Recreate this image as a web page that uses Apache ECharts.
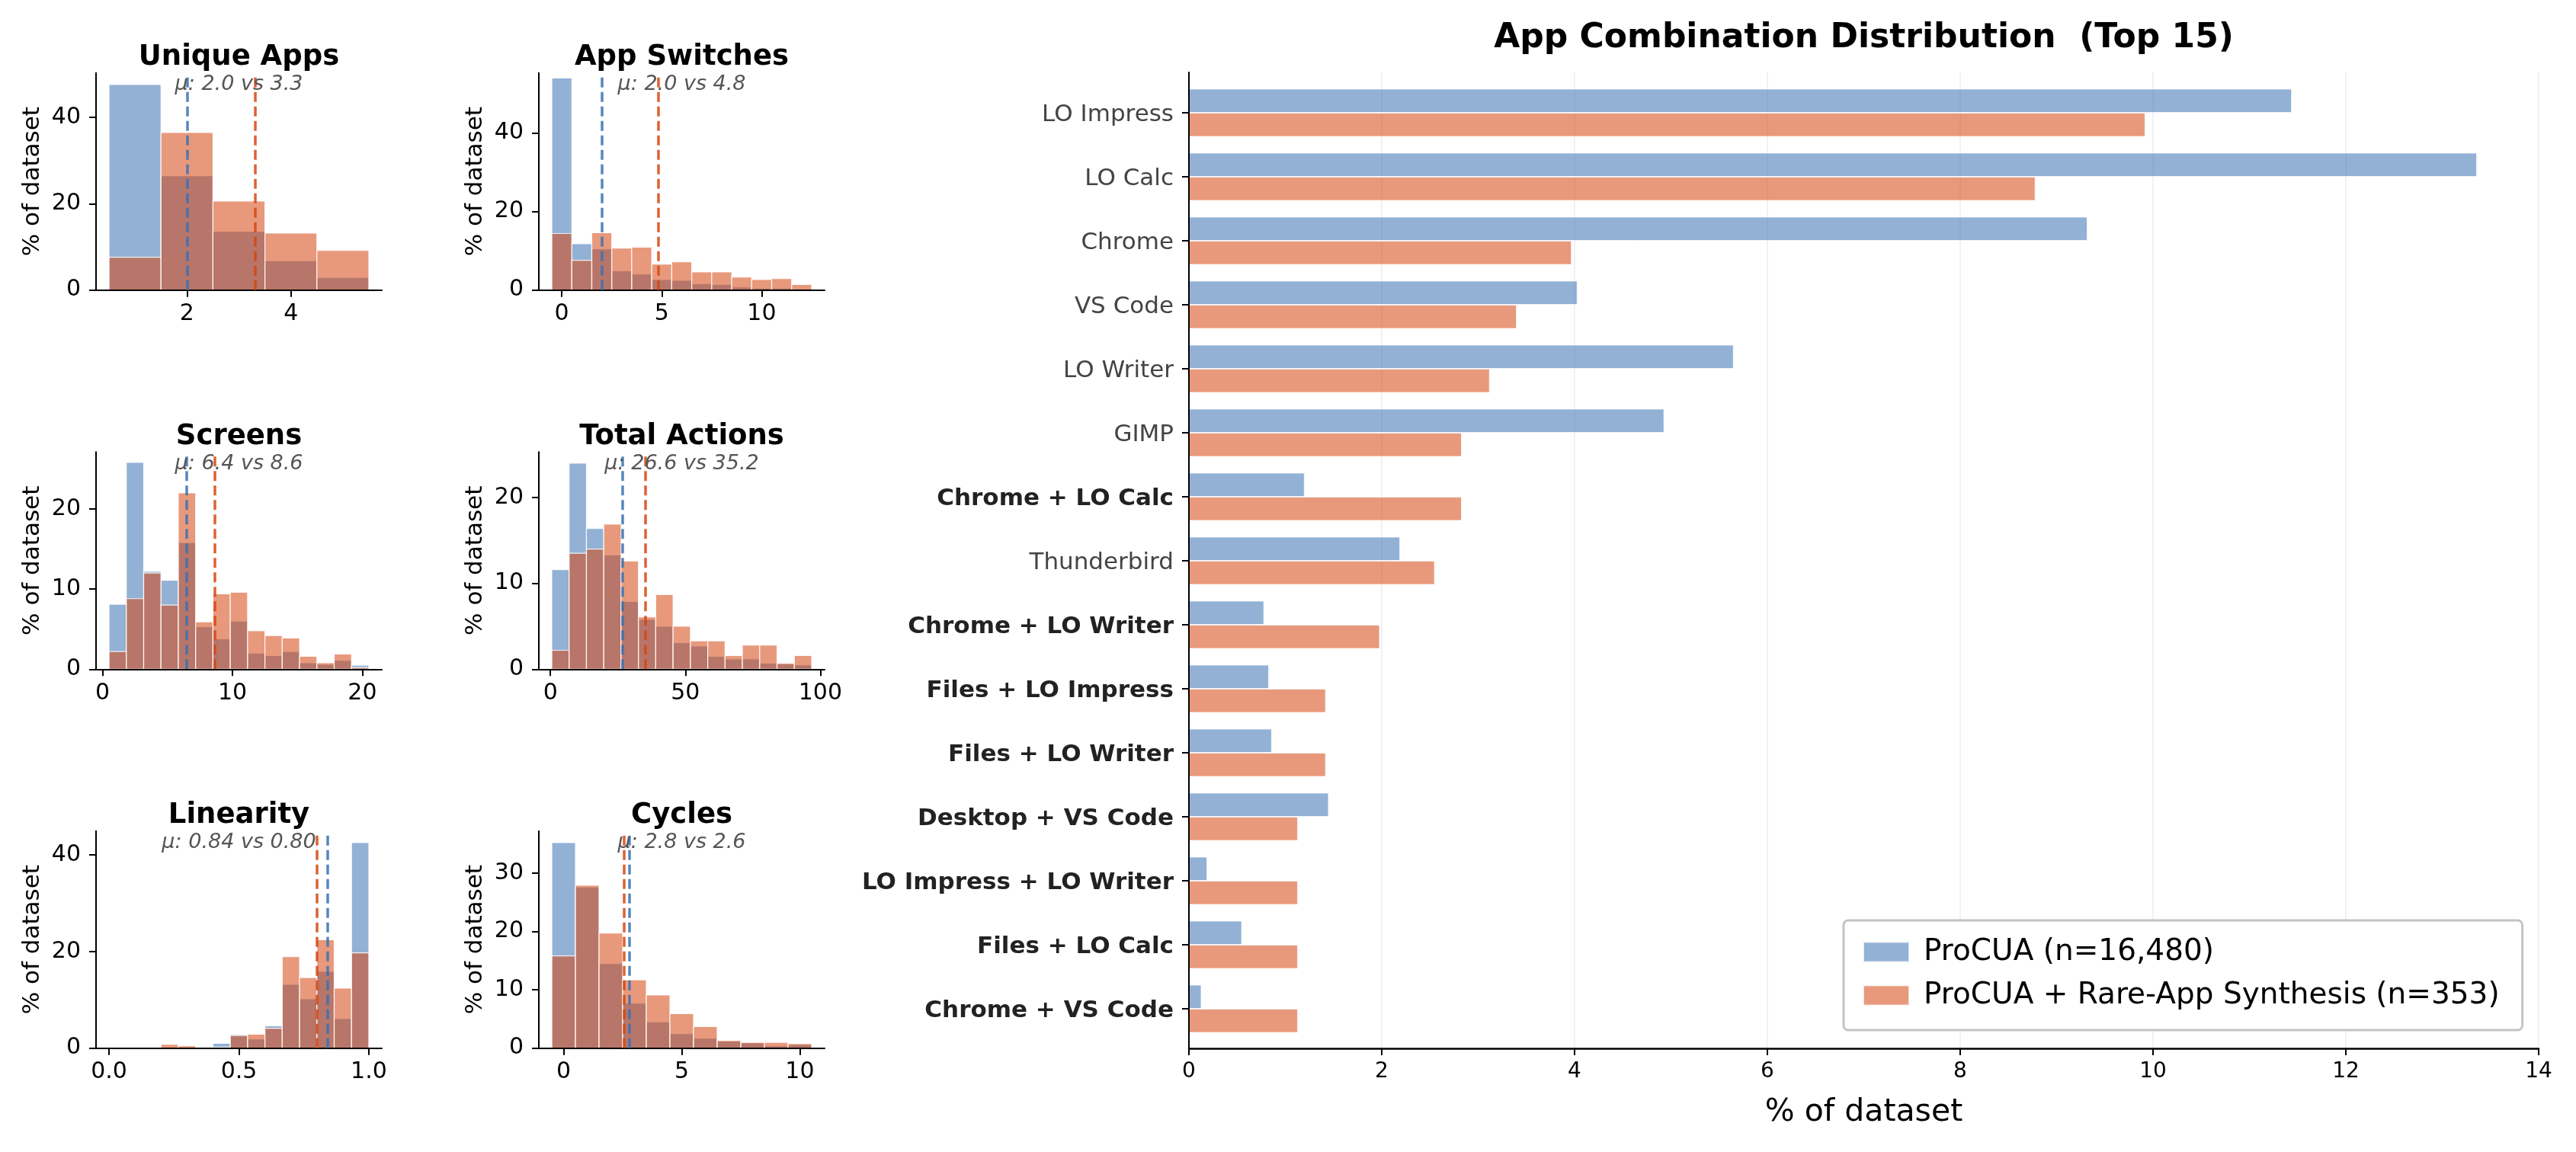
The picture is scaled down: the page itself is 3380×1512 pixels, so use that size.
<!doctype html>
<html lang="en">
<head>
    <meta charset="UTF-8">
    <title>ProCUA distributions</title>
    <style>
        body { margin: 0; padding: 0; background: #fff; }
        #main { width: 3380px; height: 1512px; }
    </style>
</head>
<body>
    <div id="main"></div>

    <script src="https://cdn.jsdelivr.net/npm/echarts@6/dist/echarts.min.js"></script>
    <script>
        // ---- histogram data (% of dataset per bin) ----
        // bins: [first edge, bin width]
        var uniqueAppsBins = [0.5, 1];
        var uniqueAppsProcua = [47.6, 26.5, 13.6, 6.8, 2.9];
        var uniqueAppsRare = [7.6, 36.5, 20.6, 13.2, 9.2];
        var uniqueAppsMeans = [2.0, 3.31];

        var appSwitchesBins = [-0.5, 1];
        var appSwitchesProcua = [54.0, 11.8, 10.5, 4.9, 4.1, 2.7, 2.5, 1.6, 1.4, 0.8, 0.5, 0.5, 0.3];
        var appSwitchesRare = [14.4, 7.6, 14.6, 10.7, 10.9, 6.6, 7.2, 4.6, 4.6, 3.3, 2.7, 2.9, 1.4];
        var appSwitchesMeans = [2.02, 4.84];

        var screensBins = [0.5, 4 / 3];
        var screensProcua = [8.1, 25.8, 12.2, 11.1, 15.8, 5.3, 3.8, 6.0, 2.0, 1.7, 2.2, 0.8, 0.6, 1.1, 0.5];
        var screensRare = [2.2, 8.8, 12.0, 8.0, 22.0, 5.9, 9.4, 9.6, 4.8, 4.2, 3.9, 1.6, 0.8, 1.9, 0.2];
        var screensMeans = [6.44, 8.64];

        var totalActionsBins = [0.5, 6.42];
        var totalActionsProcua = [11.6, 24.0, 16.4, 13.3, 7.9, 5.8, 5.0, 3.1, 2.7, 1.5, 1.2, 1.2, 0.7, 0.6, 0.5];
        var totalActionsRare = [2.2, 13.5, 14.0, 16.9, 12.6, 6.1, 8.7, 5.0, 3.3, 3.3, 1.6, 2.8, 2.8, 0.7, 1.6];
        var totalActionsMeans = [26.6, 35.2];

        var linearityBins = [0, 1 / 15];
        var linearityProcua = [0, 0, 0, 0.1, 0.1, 0.2, 1.0, 2.8, 1.9, 4.6, 13.2, 10.2, 15.9, 6.1, 42.5];
        var linearityRare = [0, 0, 0, 0.8, 0.5, 0, 0.2, 2.6, 2.9, 4.1, 18.9, 14.6, 22.4, 12.4, 19.7];
        var linearityMeans = [0.844, 0.798];

        var cyclesBins = [-0.5, 1];
        var cyclesProcua = [35.2, 27.6, 14.5, 7.7, 4.5, 2.5, 1.7, 1.2, 0.9, 0.4, 0.6];
        var cyclesRare = [15.8, 27.9, 19.7, 11.7, 9.1, 5.9, 3.7, 1.3, 1.0, 1.0, 0.8];
        var cyclesMeans = [2.77, 2.56];

        // ---- app combination data (top 15) ----
        var comboNames = ['LO Impress', 'LO Calc', 'Chrome', 'VS Code', 'LO Writer', 'GIMP',
            'Chrome + LO Calc', 'Thunderbird', 'Chrome + LO Writer', 'Files + LO Impress',
            'Files + LO Writer', 'Desktop + VS Code', 'LO Impress + LO Writer', 'Files + LO Calc',
            'Chrome + VS Code'];
        var comboProcua = [11.44, 13.36, 9.32, 4.03, 5.65, 4.93, 1.20, 2.19, 0.78, 0.83, 0.86, 1.45, 0.19, 0.55, 0.13];
        var comboRare = [9.92, 8.78, 3.97, 3.40, 3.12, 2.83, 2.83, 2.55, 1.98, 1.42, 1.42, 1.13, 1.13, 1.13, 1.13];

        var seriesNames = ['ProCUA (n=16,480)', 'ProCUA + Rare-App Synthesis (n=353)'];

        var FONT = '"DejaVu Sans", sans-serif';
        var blueFill = 'rgba(57,113,179,0.55)';
        var orangeFill = 'rgba(213,70,17,0.55)';
        var blueLine = 'rgba(57,113,179,0.85)';
        var orangeLine = 'rgba(213,70,17,0.85)';

        var panels = [
            { title: 'Unique Apps', bins: uniqueAppsBins, procua: uniqueAppsProcua, rare: uniqueAppsRare, means: uniqueAppsMeans,
              xlim: [0.25, 5.75], ymax: 50.3, xticks: [2, 4], yticks: [0, 20, 40], digits: 1, tickDigits: 0 },
            { title: 'App Switches', bins: appSwitchesBins, procua: appSwitchesProcua, rare: appSwitchesRare, means: appSwitchesMeans,
              xlim: [-1.15, 13.15], ymax: 55.3, xticks: [0, 5, 10], yticks: [0, 20, 40], digits: 1, tickDigits: 0 },
            { title: 'Screens', bins: screensBins, procua: screensProcua, rare: screensRare, means: screensMeans,
              xlim: [-0.5, 21.5], ymax: 27.1, xticks: [0, 10, 20], yticks: [0, 10, 20], digits: 1, tickDigits: 0 },
            { title: 'Total Actions', bins: totalActionsBins, procua: totalActionsProcua, rare: totalActionsRare, means: totalActionsMeans,
              xlim: [-4.3, 101.6], ymax: 25.3, xticks: [0, 50, 100], yticks: [0, 10, 20], digits: 1, tickDigits: 0 },
            { title: 'Linearity', bins: linearityBins, procua: linearityProcua, rare: linearityRare, means: linearityMeans,
              xlim: [-0.05, 1.05], ymax: 44.9, xticks: [0, 0.5, 1], yticks: [0, 20, 40], digits: 2, tickDigits: 1 },
            { title: 'Cycles', bins: cyclesBins, procua: cyclesProcua, rare: cyclesRare, means: cyclesMeans,
              xlim: [-1.05, 11.05], ymax: 37.2, xticks: [0, 5, 10], yticks: [0, 10, 20, 30], digits: 1, tickDigits: 0 }
        ];

        var colLeft = [126, 707];
        var rowTop = [95.7, 593.3, 1090.7];
        var plotW = 375, plotH = 285;

        var grids = [], xAxes = [], yAxes = [], series = [], texts = [];

        function histSeries(name, values, bins, fill, lineColor, mean, idx) {
            return {
                type: 'custom',
                name: name,
                xAxisIndex: idx,
                yAxisIndex: idx,
                data: values.map(function (v, i) {
                    return [bins[0] + i * bins[1], bins[0] + (i + 1) * bins[1], v];
                }),
                encode: { x: [0, 1], y: 2 },
                renderItem: function (params, api) {
                    if (api.value(2) <= 0) return null;
                    var p0 = api.coord([api.value(0), api.value(2)]);
                    var p1 = api.coord([api.value(1), 0]);
                    return {
                        type: 'rect',
                        shape: { x: p0[0], y: p0[1], width: p1[0] - p0[0], height: p1[1] - p0[1] },
                        style: { fill: fill, stroke: 'rgba(255,255,255,0.85)', lineWidth: 1.2 }
                    };
                },
                markLine: {
                    silent: true,
                    symbol: ['none', 'none'],
                    label: { show: false },
                    lineStyle: { color: lineColor, type: [13, 6], width: 3.5 },
                    data: [{ xAxis: mean }]
                }
            };
        }

        panels.forEach(function (p, i) {
            var col = i % 2, row = Math.floor(i / 2);
            var left = colLeft[col], top = rowTop[row];
            grids.push({ left: left, top: top, width: plotW, height: plotH });

            xAxes.push({
                gridIndex: i, type: 'value', min: p.xlim[0], max: p.xlim[1], z: 3,
                axisLine: { show: true, onZero: false, lineStyle: { color: '#000', width: 2 } },
                axisTick: { show: true, length: 9, customValues: p.xticks, lineStyle: { color: '#000', width: 2 } },
                axisLabel: {
                    show: true, customValues: p.xticks, margin: 17, fontSize: 30, color: '#000', fontFamily: FONT,
                    formatter: (function (d) { return function (v) { return Number(v).toFixed(d); }; })(p.tickDigits)
                },
                splitLine: { show: false }
            });
            yAxes.push({
                gridIndex: i, type: 'value', min: 0, max: p.ymax, z: 3,
                name: '% of dataset', nameLocation: 'middle', nameGap: 68,
                nameTextStyle: { fontSize: 31, color: '#000', fontFamily: FONT },
                axisLine: { show: true, onZero: false, lineStyle: { color: '#000', width: 2 } },
                axisTick: { show: true, length: 9, customValues: p.yticks, lineStyle: { color: '#000', width: 2 } },
                axisLabel: { show: true, customValues: p.yticks, margin: 20, fontSize: 30, color: '#000', fontFamily: FONT },
                splitLine: { show: false }
            });

            series.push(histSeries('hist-procua-' + i, p.procua, p.bins, blueFill, blueLine, p.means[0], i));
            series.push(histSeries('hist-rare-' + i, p.rare, p.bins, orangeFill, orangeLine, p.means[1], i));

            var cx = left + plotW / 2;
            texts.push({
                type: 'text', x: cx, y: top - 20, silent: true,
                style: { text: p.title, font: 'bold 37px ' + FONT, fill: '#000', align: 'center', verticalAlign: 'middle' }
            });
            texts.push({
                type: 'text', x: cx, y: top + 15.5, silent: true, z: 10,
                style: {
                    text: '\u03bc: ' + p.means[0].toFixed(p.digits) + ' vs ' + p.means[1].toFixed(p.digits),
                    font: 'italic 27px ' + FONT, fill: '#555', align: 'center', verticalAlign: 'middle'
                }
            });
        });

        // ---- app combination chart: grid 6 holds bars, grid 7 holds spines / x axis / grid lines ----
        var barLeft = 1560, barRight = 3331;
        grids.push({ left: barLeft, width: barRight - barLeft, top: 106, height: 1260 });
        grids.push({ left: barLeft, width: barRight - barLeft, top: 95, height: 1281 });

        xAxes.push({ gridIndex: 6, type: 'value', min: 0, max: 14, show: false });
        yAxes.push({
            gridIndex: 6, type: 'category', inverse: true, data: comboNames,
            axisLine: { show: false },
            axisTick: { show: true, alignWithLabel: true, length: 9, lineStyle: { color: '#000', width: 2 } },
            axisLabel: {
                margin: 20,
                padding: [6, 0, 0, 0],
                formatter: function (v) { return v.indexOf(' + ') >= 0 ? '{b|' + v + '}' : '{r|' + v + '}'; },
                rich: {
                    b: { fontSize: 31, fontWeight: 'bold', color: '#222', fontFamily: FONT },
                    r: { fontSize: 31, color: '#444', fontFamily: FONT }
                }
            }
        });

        xAxes.push({
            gridIndex: 7, type: 'value', min: 0, max: 14, interval: 2, z: 0,
            name: '% of dataset', nameLocation: 'middle', nameGap: 64,
            nameTextStyle: { fontSize: 41, color: '#000', fontFamily: FONT },
            axisLine: { show: true, onZero: false, lineStyle: { color: '#000', width: 2.5 } },
            axisTick: { show: true, length: 9, lineStyle: { color: '#000', width: 2 } },
            axisLabel: { margin: 17, fontSize: 28, color: '#000', fontFamily: FONT },
            splitLine: { show: true, lineStyle: { color: '#ececec', width: 1.5 } }
        });
        yAxes.push({
            gridIndex: 7, type: 'value', min: 0, max: 1, z: 5,
            axisLine: { show: true, onZero: false, lineStyle: { color: '#000', width: 2 } },
            axisTick: { show: false }, axisLabel: { show: false }, splitLine: { show: false }
        });

        series.push({
            type: 'bar', name: seriesNames[0], xAxisIndex: 6, yAxisIndex: 6, data: comboProcua,
            barWidth: 31.5, barGap: '0%',
            itemStyle: { color: blueFill, borderColor: 'rgba(255,255,255,0.7)', borderWidth: 1 }
        });
        series.push({
            type: 'bar', name: seriesNames[1], xAxisIndex: 6, yAxisIndex: 6, data: comboRare,
            barWidth: 31.5, barGap: '0%',
            itemStyle: { color: orangeFill, borderColor: 'rgba(255,255,255,0.7)', borderWidth: 1 }
        });

        texts.push({
            type: 'text', x: (barLeft + barRight) / 2, y: 51, silent: true,
            style: { text: 'App Combination Distribution  (Top 15)', font: 'bold 44px ' + FONT, fill: '#000', align: 'center', verticalAlign: 'middle' }
        });

        var myChart = echarts.init(document.getElementById('main'));
        myChart.setOption({
            animation: false,
            backgroundColor: '#fff',
            textStyle: { fontFamily: FONT },
            grid: grids,
            xAxis: xAxes,
            yAxis: yAxes,
            legend: {
                data: seriesNames,
                orient: 'vertical',
                left: 2419, top: 1208,
                padding: [22, 30, 26, 25],
                itemWidth: 60, itemHeight: 26, itemGap: 18,
                icon: 'rect',
                backgroundColor: '#fff',
                borderColor: '#c4c4c4', borderWidth: 3, borderRadius: 6,
                textStyle: { fontSize: 39, color: '#000', fontFamily: FONT, padding: [0, 0, 0, 14] }
            },
            graphic: texts,
            series: series
        });
    </script>
</body>
</html>
